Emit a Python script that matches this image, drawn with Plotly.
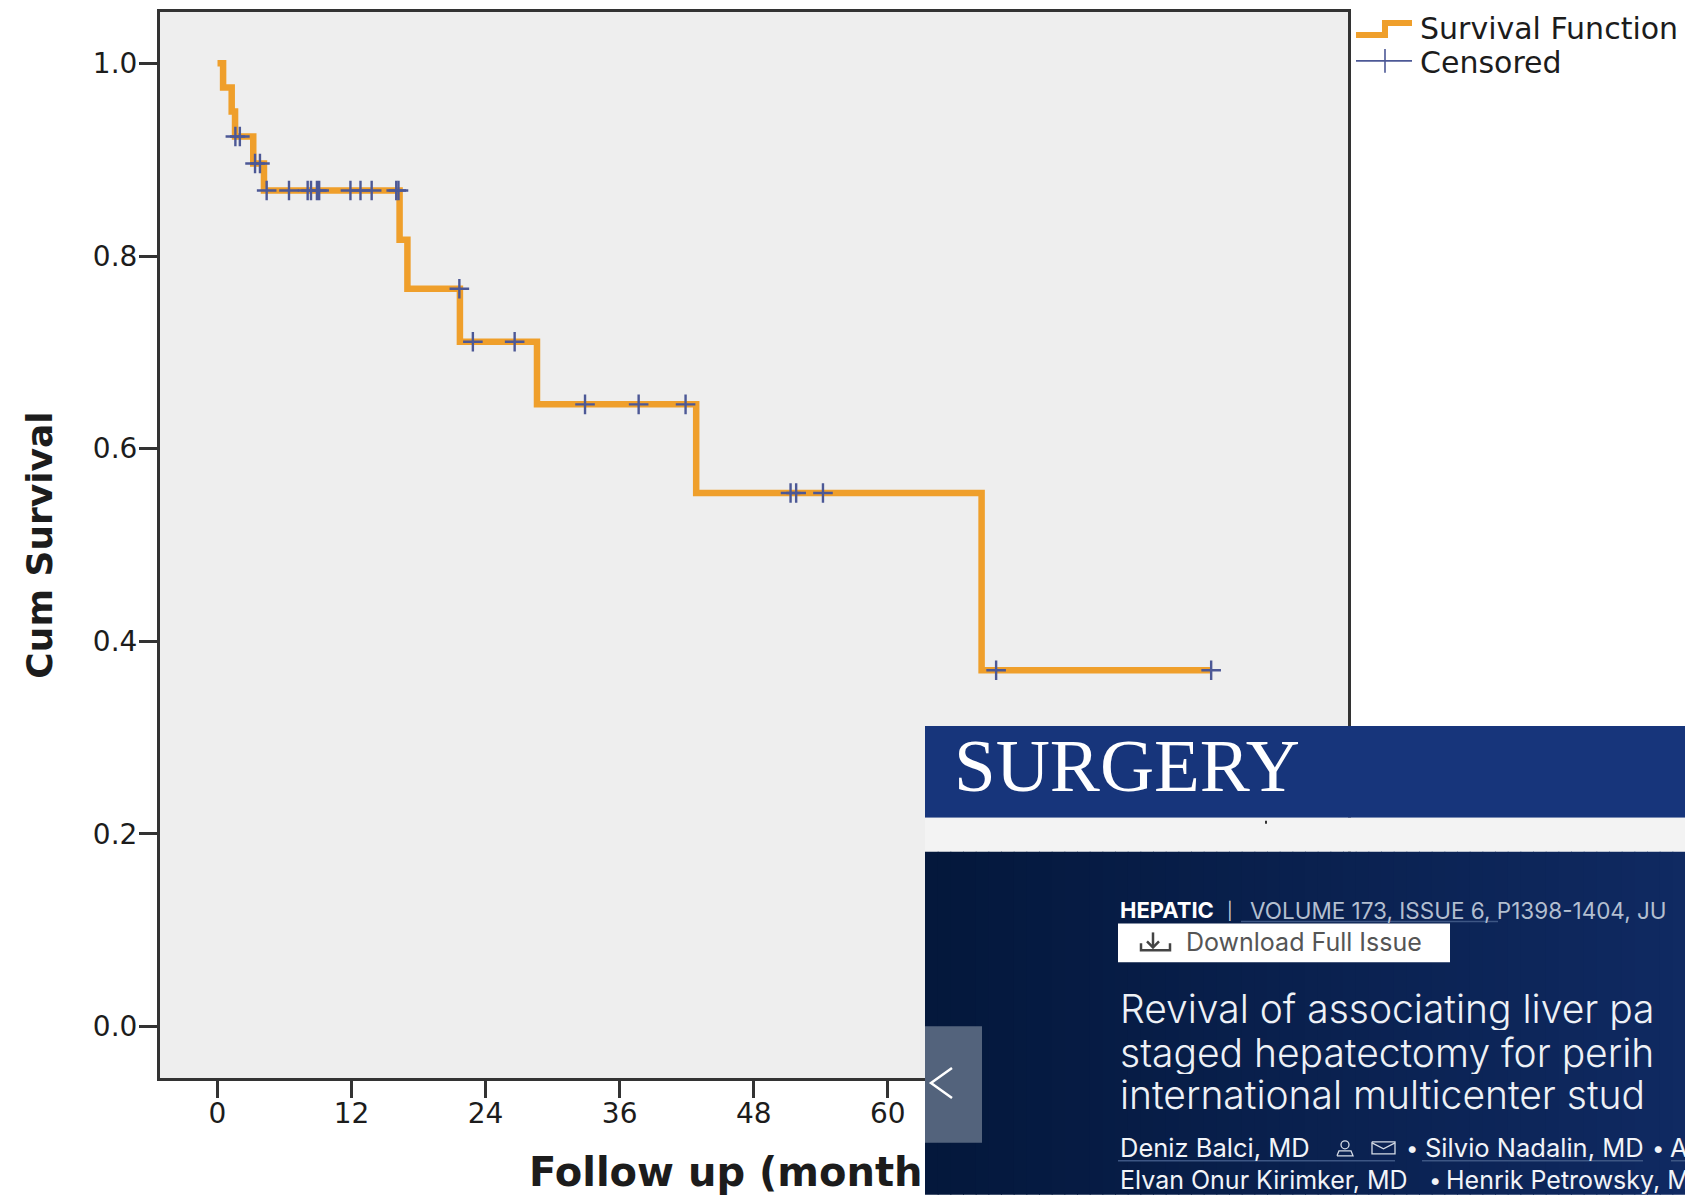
import plotly.graph_objects as go

# ---- data ----
step_months = [0, 0.5, 1.27, 1.57, 3.2, 4.16, 16.3, 17.0, 21.7, 28.6, 42.85, 68.4, 88.9]
step_survival = [1.0, 0.975, 0.95, 0.924, 0.896, 0.868, 0.817, 0.766, 0.711, 0.646, 0.554, 0.37, 0.37]
censored_months = [1.6, 2.0, 3.36, 3.8, 4.4, 6.4, 8.07, 8.37, 8.9, 9.1, 11.9, 12.8, 13.8, 16.0, 16.2,
                   21.65, 22.86, 26.6, 32.9, 37.7, 41.9, 51.3, 51.8, 54.2, 69.7, 88.95]
censored_survival = [0.924, 0.924, 0.896, 0.896, 0.868, 0.868, 0.868, 0.868, 0.868, 0.868, 0.868, 0.868, 0.868, 0.868, 0.868,
                     0.766, 0.711, 0.711, 0.646, 0.646, 0.646, 0.554, 0.554, 0.554, 0.37, 0.37]
x_ticks = [0, 12, 24, 36, 48, 60]
y_ticks = [0.0, 0.2, 0.4, 0.6, 0.8, 1.0]

ORANGE = "#ef9f2b"
CROSS = "#4c5896"
INK = "#1c1c1c"
CHART_FONT = "DejaVu Sans"
WEB_FONT = "Inter"

# plot-area box in page pixels
L, T, R, B = 160, 9, 1348, 1078
W, H = 1685, 1195
def px(x): return (x - L) / (R - L)
def py(y): return (B - y) / (B - T)

fig = go.Figure()
fig.add_trace(go.Scatter(x=step_months, y=step_survival, mode="lines", name="Survival Function",
                         line=dict(color=ORANGE, width=6.5, shape="hv"), showlegend=False))
fig.add_trace(go.Scatter(x=censored_months, y=censored_survival, mode="markers", name="Censored",
                         marker=dict(symbol="cross-thin", size=14, line=dict(color=CROSS, width=2.4)),
                         showlegend=False))

shapes = []
annotations = []
def rect(x0, y0, x1, y1, color):
    shapes.append(dict(type="rect", xref="paper", yref="paper", x0=px(x0), x1=px(x1), y0=py(y0), y1=py(y1),
                       fillcolor=color, line=dict(width=0), layer="above"))
def seg(pts, color, width):
    path = "M" + " L".join(f"{px(a):.5f},{py(b):.5f}" for a, b in pts)
    shapes.append(dict(type="path", xref="paper", yref="paper", path=path,
                       line=dict(color=color, width=width), layer="above"))
def text(x, y, s, size, color, family=WEB_FONT, weight=None, height=None):
    f = dict(family=family, size=size, color=color)
    if weight:
        f["weight"] = weight
    a = dict(xref="paper", yref="paper", x=px(x), y=py(y), text=s, showarrow=False,
             xanchor="left", yanchor="middle", align="left", font=f)
    if height:
        a["height"] = height
    annotations.append(a)

# hand-set legend, matching the stepped key of the original
seg([(1356, 32), (1385, 32), (1385, 20), (1412, 20)], ORANGE, 6)
seg([(1356, 58), (1412, 58)], CROSS, 1.6)
seg([(1385, 46), (1385, 70)], CROSS, 1.6)
text(1418, 26, "Survival Function", 30, INK, CHART_FONT)
text(1418, 60, "Censored", 30, INK, CHART_FONT)

# x-axis title, cut off by the overlapping web page
text(527, 1172, "<b>Follow up (month</b>", 40, INK, CHART_FONT)

# overlapping journal web page
rect(925, 725, W, 817, "#17357b")
rect(925, 817, W, 851, "#f3f3f3")
n = 60
for i in range(n):
    t = i / (n - 1)
    c = (int(4 + t * 12), int(24 + t * 18), int(60 + t * 38))
    x0 = 925 + (W - 925) * i / n
    x1 = 925 + (W - 925) * (i + 1) / n + 1
    rect(x0, 851, x1, H, f"rgb{c}")
rect(1265, 820, 1267, 823, "#333333")
rect(925, 1026, 982, 1143, "#53637c")
seg([(952, 1068), (931, 1083), (952, 1098)], "#ffffff", 2.5)
rect(1118, 923, 1450, 962, "#ffffff")
seg([(1153, 932), (1153, 946)], "#444444", 2.5)
seg([(1147, 941), (1153, 947), (1159, 941)], "#444444", 2.5)
seg([(1141, 943), (1141, 950), (1170, 950), (1170, 943)], "#444444", 2.5)
seg([(1241, 921), (1498, 921)], "#3d5684", 1.5)
seg([(1118, 1161), (1395, 1161)], "#3d5684", 1.5)
seg([(1422, 1161), (1643, 1161)], "#3d5684", 1.5)
seg([(1671, 1161), (W, 1161)], "#3d5684", 1.5)
# author icons
shapes.append(dict(type="circle", xref="paper", yref="paper", x0=px(1341), x1=px(1349), y0=py(1141), y1=py(1149),
                   line=dict(color="#d5dbe6", width=1.3), layer="above"))
seg([(1337, 1156), (1339, 1151), (1351, 1151), (1353, 1156), (1337, 1156)], "#d5dbe6", 1.3)
seg([(1372, 1142), (1395, 1142), (1395, 1154), (1372, 1154), (1372, 1142)], "#d5dbe6", 1.3)
seg([(1372, 1143), (1383.5, 1149), (1395, 1143)], "#d5dbe6", 1.3)

text(952, 765, "SURGERY", 75, "#ffffff", "Liberation Serif")
text(1118, 910, "<b>HEPATIC</b>", 22, "#ffffff")
text(1225, 910, "|", 17, "#c8d0dc")
text(1248, 910, "VOLUME 173, ISSUE 6, P1398-1404, JU", 22.5, "#b3bfd0")
text(1184, 942, "Download Full Issue", 25, "#555555")
text(1118, 1008, "Revival of associating liver pa", 39, "#eef1f6", weight=300, height=43)
text(1118, 1052, "staged hepatectomy for perih", 39, "#eef1f6", weight=300, height=43)
text(1118, 1095, "international multicenter stud", 39, "#eef1f6", weight=300, height=43)
text(1118, 1148, "Deniz Balci, MD", 25.5, "#f2f4f8")
text(1404, 1148, "•", 22, "#f2f4f8")
text(1423, 1148, "Silvio Nadalin, MD", 25.5, "#f2f4f8")
text(1650, 1148, "•", 22, "#f2f4f8")
text(1668, 1148, "A", 25.5, "#f2f4f8")
text(1118, 1180, "Elvan Onur Kirimker, MD", 25, "#f2f4f8")
text(1427, 1180, "•", 22, "#f2f4f8")
text(1444, 1180, "Henrik Petrowsky, M", 25, "#f2f4f8")

fig.update_layout(
    width=W, height=H, autosize=False,
    margin=dict(l=L, r=W - R, t=T, b=H - B),
    paper_bgcolor="#ffffff", plot_bgcolor="#eeeeee",
    font=dict(family=CHART_FONT, size=28, color=INK),
    shapes=shapes, annotations=annotations, showlegend=False,
    xaxis=dict(range=[-5.148, 101.2], tickmode="array", tickvals=x_ticks, ticks="outside", ticklen=17, tickwidth=2.5,
               tickcolor="#333333", showgrid=False, zeroline=False, showline=True, mirror=True,
               linecolor="#333333", linewidth=3, tickfont=dict(size=28, color=INK), ticklabelstandoff=-9),
    yaxis=dict(range=[-0.0533, 1.0533], tickmode="array", tickvals=y_ticks, tickformat=".1f", ticks="outside",
               ticklen=18, tickwidth=2.5, tickcolor="#333333", showgrid=False, zeroline=False, showline=True,
               mirror=True, linecolor="#333333", linewidth=3, tickfont=dict(size=28, color=INK), ticklabelstandoff=-4,
               title=dict(text="<b>Cum Survival</b>", font=dict(size=36, color=INK), standoff=30)),
)

fig.write_html("out.html", config=dict(displayModeBar=False), post_script="document.body.style.margin='0';")
